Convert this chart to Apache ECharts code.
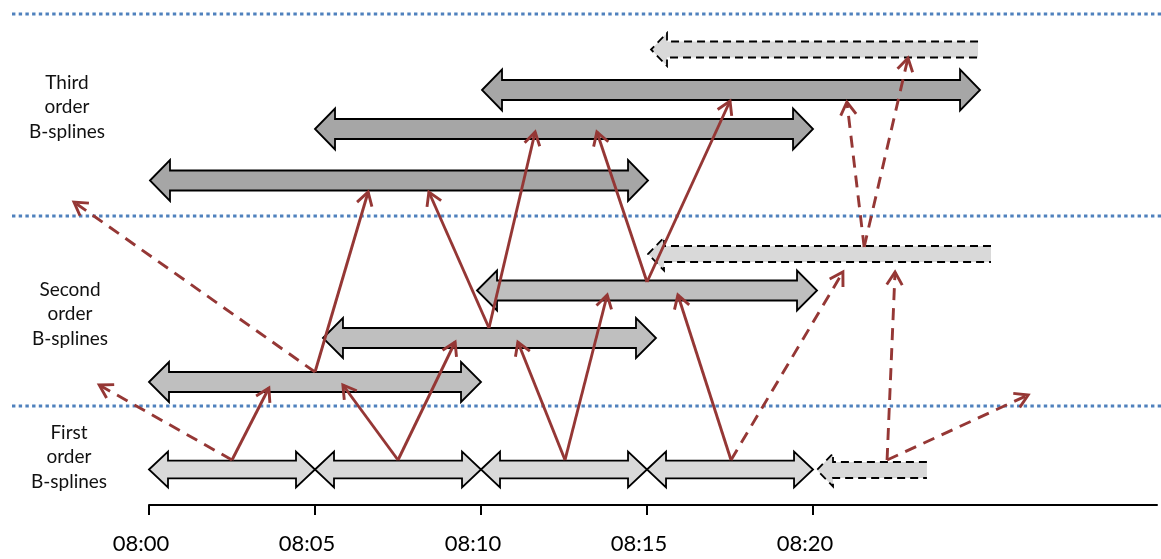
<!DOCTYPE html>
<html><head><meta charset="utf-8">
<script src="https://cdn.jsdelivr.net/npm/echarts@6/dist/echarts.min.js"></script>
<style>html,body{margin:0;padding:0;background:#fff}#c{width:1161px;height:559px}</style>
</head><body><div id="c"></div>
<script>
// ---- data (minutes after 08:00, vertical level units) ----
const tickMinutes = [0, 5, 10, 15, 20];
const tickLabels = ['08:00', '08:05', '08:10', '08:15', '08:20'];
const rowLabels = ['Third\norder\nB-splines', 'Second\norder\nB-splines', 'First\norder\nB-splines'];
const separatorLevels = [9.9, 28.9, 49.1];
// [start minute, end minute, level]
const firstOrder  = [[0, 5, 3.55], [5, 10, 3.55], [10, 15, 3.55], [15, 20, 3.55]];
const secondOrder = [[0, 10, 12.3], [5.24, 15.27, 16.7], [9.88, 20.12, 21.45]];
const thirdOrder  = [[0.03, 15.03, 32.45], [5, 20, 37.6], [10.03, 25.03, 41.5]];
const pendingSplines = [[20.12, 23.43, 3.5], [15.03, 25.36, 25.1], [15.12, 24.97, 45.55]];
// [from minute, from level, to minute, to level]
const solidLinks = [
  [2.5, 4.5, 3.61, 11.7],
  [7.5, 4.5, 5.84, 12.0],
  [7.5, 4.5, 9.22, 16.3],
  [12.53, 4.5, 11.11, 16.3],
  [12.53, 4.5, 13.8, 21.0],
  [17.53, 4.5, 15.93, 21.0],
  [5.0, 13.3, 6.6, 31.3],
  [10.24, 17.7, 8.43, 31.3],
  [10.24, 17.7, 11.63, 37.3],
  [15.0, 22.3, 13.49, 37.3],
  [15.0, 22.3, 17.5, 40.4]
];
const dashedLinks = [
  [2.5, 4.5, -1.5, 12.0],
  [17.53, 4.5, 20.9, 23.3],
  [22.23, 4.5, 22.47, 23.3],
  [22.23, 4.5, 26.48, 11.0],
  [5.0, 13.3, -2.26, 30.3],
  [21.54, 25.8, 21.02, 40.3],
  [21.54, 25.8, 22.86, 44.7]
];

// ---- styles ----
const RED = '#953735';
const BLUE = '#4f81bd';

function splineRenderer(fill, sh, hh, hl) {
  return function (params, api) {
    const a = api.coord([api.value(0), api.value(2)]);
    const b = api.coord([api.value(1), api.value(2)]);
    const y = a[1], x0 = a[0], x1 = b[0];
    const pts = [
      [x0, y], [x0 + hl, y - hh], [x0 + hl, y - sh], [x1 - hl, y - sh], [x1 - hl, y - hh],
      [x1, y], [x1 - hl, y + hh], [x1 - hl, y + sh], [x0 + hl, y + sh], [x0 + hl, y + hh]
    ];
    return { type: 'polygon', shape: { points: pts },
      style: { fill: fill, stroke: '#000', lineWidth: 1.8, lineJoin: 'miter' } };
  };
}
function pendingRenderer(params, api) {
  const a = api.coord([api.value(0), api.value(2)]);
  const b = api.coord([api.value(1), api.value(2)]);
  const y = a[1], x0 = a[0], x1 = b[0];
  const sh = 8, hh = 16.5, hl = 16;
  const fillPts = [[x0, y], [x0 + hl, y - hh], [x0 + hl, y - sh], [x1, y - sh], [x1, y + sh], [x0 + hl, y + sh], [x0 + hl, y + hh]];
  const outline = [[x1, y - sh], [x0 + hl, y - sh], [x0 + hl, y - hh], [x0, y], [x0 + hl, y + hh], [x0 + hl, y + sh], [x1, y + sh]];
  return { type: 'group', children: [
    { type: 'polygon', shape: { points: fillPts }, style: { fill: '#d9d9d9', stroke: null } },
    { type: 'polyline', shape: { points: outline }, style: { fill: null, stroke: '#000', lineWidth: 1.8, lineDash: [8, 5] } }
  ] };
}
function linkRenderer(dashed) {
  return function (params, api) {
    const a = api.coord([api.value(0), api.value(1)]);
    const b = api.coord([api.value(2), api.value(3)]);
    const ang = Math.atan2(b[1] - a[1], b[0] - a[0]);
    const L = 15, w = Math.PI / 5.8;
    const p1 = [b[0] - L * Math.cos(ang - w), b[1] - L * Math.sin(ang - w)];
    const p2 = [b[0] - L * Math.cos(ang + w), b[1] - L * Math.sin(ang + w)];
    return { type: 'group', children: [
      { type: 'line', shape: { x1: a[0], y1: a[1], x2: b[0], y2: b[1] },
        style: { stroke: RED, lineWidth: 2.9, lineDash: dashed ? [12, 8] : null } },
      { type: 'polyline', shape: { points: [p1, b, p2] },
        style: { stroke: RED, lineWidth: 2.9, fill: null, lineJoin: 'miter' } }
    ] };
  };
}
function separatorRenderer(params, api) {
  const p = api.coord([api.value(0), api.value(1)]);
  return { type: 'line', shape: { x1: 12, y1: p[1], x2: api.getWidth(), y2: p[1] },
    style: { stroke: BLUE, lineWidth: 3, lineDash: [3.4, 3.3] } };
}

const chart = echarts.init(document.getElementById('c'), null, { renderer: 'canvas' });
const common = { type: 'custom', clip: false, silent: true, animation: false };
const labelFont = '19px Lato';
chart.setOption({
  animation: false,
  grid: { left: 149, right: 4, top: 0, bottom: 54 },
  xAxis: {
    type: 'value', min: 0, max: 30.36,
    axisLine: { lineStyle: { color: '#000', width: 2 } },
    axisTick: { customValues: tickMinutes, length: 10, lineStyle: { color: '#000', width: 2 } },
    axisLabel: {
      customValues: tickMinutes,
      formatter: v => tickLabels[tickMinutes.indexOf(v)] || '',
      fontFamily: 'Lato', fontSize: 22, color: '#000', margin: 28, padding: [0, 16, 0, 0]
    },
    splitLine: { show: false }
  },
  yAxis: { type: 'value', min: 0, max: 50.5, show: false },
  graphic: [
    { type: 'text', x: 67, y: 107, style: { text: rowLabels[0], align: 'center', verticalAlign: 'middle', font: labelFont, lineHeight: 24.5, fill: '#111' } },
    { type: 'text', x: 70, y: 314, style: { text: rowLabels[1], align: 'center', verticalAlign: 'middle', font: labelFont, lineHeight: 24.5, fill: '#111' } },
    { type: 'text', x: 69, y: 457, style: { text: rowLabels[2], align: 'center', verticalAlign: 'middle', font: labelFont, lineHeight: 24.5, fill: '#111' } }
  ],
  series: [
    Object.assign({}, common, { name: 'separators', data: separatorLevels.map(l => [0, l]), encode: { x: 0, y: 1 }, renderItem: separatorRenderer }),
    Object.assign({}, common, { name: 'first', data: firstOrder, encode: { x: [0, 1], y: 2 }, renderItem: splineRenderer('#d9d9d9', 8.8, 17.8, 19) }),
    Object.assign({}, common, { name: 'second', data: secondOrder, encode: { x: [0, 1], y: 2 }, renderItem: splineRenderer('#bfbfbf', 10, 20, 20) }),
    Object.assign({}, common, { name: 'third', data: thirdOrder, encode: { x: [0, 1], y: 2 }, renderItem: splineRenderer('#a6a6a6', 10, 20.5, 20) }),
    Object.assign({}, common, { name: 'pending', data: pendingSplines, encode: { x: [0, 1], y: 2 }, renderItem: pendingRenderer }),
    Object.assign({}, common, { name: 'solidLinks', data: solidLinks, encode: { x: [0, 2], y: [1, 3] }, renderItem: linkRenderer(false) }),
    Object.assign({}, common, { name: 'dashedLinks', data: dashedLinks, encode: { x: [0, 2], y: [1, 3] }, renderItem: linkRenderer(true) })
  ]
});
</script>
</body></html>
